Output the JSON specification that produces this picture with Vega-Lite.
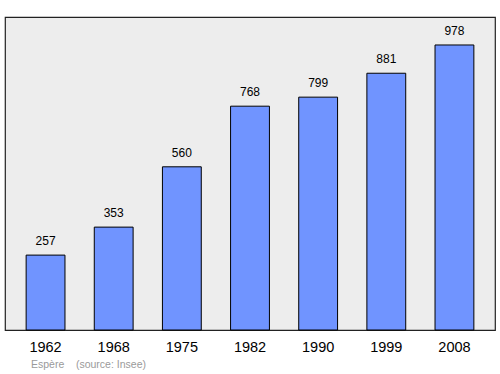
{
  "$schema": "https://vega.github.io/schema/vega-lite/v6.json",
  "width": 490,
  "height": 313,
  "autosize": {"type": "none"},
  "padding": {"left": 5, "top": 17, "right": 5, "bottom": 44},
  "background": "white",
  "config": {
    "font": "Liberation Sans",
    "view": {"fill": "#ededed", "stroke": "#222222", "strokeWidth": 1.2}
  },
  "title": {
    "text": "Esp\u00e8re\u00a0\u00a0\u00a0\u00a0(source: Insee)",
    "orient": "bottom",
    "anchor": "start",
    "dx": 26,
    "offset": 6,
    "fontSize": 10.5,
    "fontWeight": "normal",
    "color": "#9a9a9a",
    "font": "Liberation Sans"
  },
  "data": {
    "values": [
      {"year": "1962", "pop": 257},
      {"year": "1968", "pop": 353},
      {"year": "1975", "pop": 560},
      {"year": "1982", "pop": 768},
      {"year": "1990", "pop": 799},
      {"year": "1999", "pop": 881},
      {"year": "2008", "pop": 978}
    ]
  },
  "encoding": {
    "x": {
      "field": "year",
      "type": "ordinal",
      "scale": {"paddingInner": 0.43, "paddingOuter": 0.31},
      "axis": {
        "title": null,
        "domain": false,
        "ticks": false,
        "labelAngle": 0,
        "labelFontSize": 14.5,
        "labelColor": "#000000",
        "labelPadding": 10
      }
    },
    "y": {
      "field": "pop",
      "type": "quantitative",
      "scale": {"domain": [0, 1074], "nice": false, "zero": true},
      "axis": null
    }
  },
  "layer": [
    {
      "mark": {"type": "bar", "fill": "#7094ff", "stroke": "#000000", "strokeWidth": 1}
    },
    {
      "mark": {"type": "text", "baseline": "bottom", "dy": -7, "fontSize": 12, "color": "#000000"},
      "encoding": {"text": {"field": "pop", "type": "quantitative"}}
    }
  ]
}
